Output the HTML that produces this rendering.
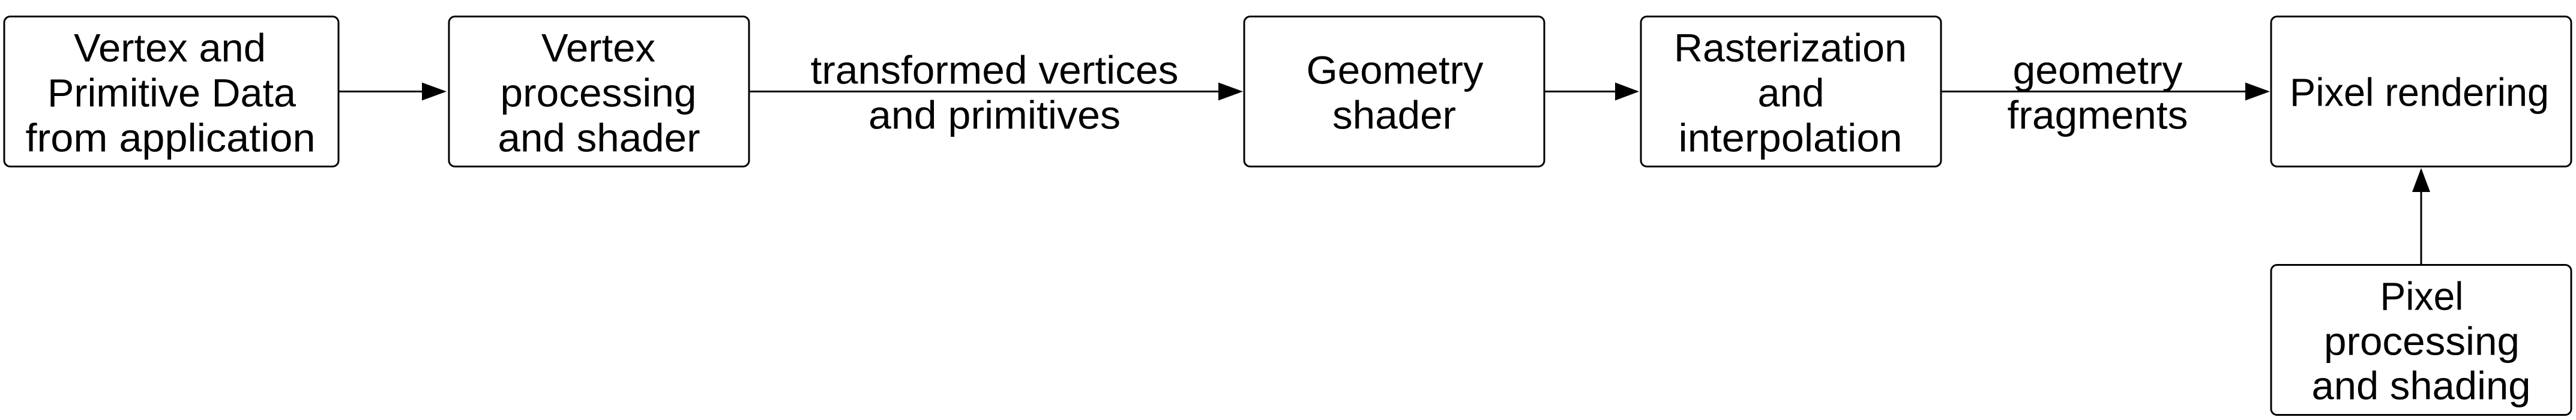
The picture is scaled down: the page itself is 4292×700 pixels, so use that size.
<!DOCTYPE html>
<html>
<head>
<meta charset="utf-8">
<style>
  html, body { margin: 0; padding: 0; background: #ffffff; }
  body { width: 4292px; height: 700px; overflow: hidden; }
  svg { display: block; }
  text { font-family: "Liberation Sans", Arial, Helvetica, sans-serif; font-size: 66px; fill: #000; }
</style>
</head>
<body>
<svg width="4292" height="700" viewBox="0 0 4292 700" xmlns="http://www.w3.org/2000/svg">
  <rect x="0" y="0" width="4292" height="700" fill="#ffffff"/>

  <!-- Boxes -->
  <g fill="#ffffff" stroke="#000" stroke-width="3">
    <rect x="7" y="27.5" width="557" height="250" rx="10" ry="10"/>
    <rect x="748" y="27.5" width="500" height="250" rx="10" ry="10"/>
    <rect x="2073" y="27.5" width="500" height="250" rx="10" ry="10"/>
    <rect x="2734" y="27.5" width="500" height="250" rx="10" ry="10"/>
    <rect x="3784" y="27.5" width="500" height="250" rx="10" ry="10"/>
    <rect x="3784" y="441.5" width="500" height="250" rx="10" ry="10"/>
  </g>

  <!-- Connectors -->
  <g stroke="#000" stroke-width="3" fill="none">
    <line x1="564" y1="152.5" x2="706" y2="152.5"/>
    <line x1="1248" y1="152.5" x2="2033" y2="152.5"/>
    <line x1="2573" y1="152.5" x2="2694" y2="152.5"/>
    <line x1="3234" y1="152.5" x2="3743" y2="152.5"/>
    <line x1="4034" y1="441.5" x2="4034" y2="318"/>
  </g>
  <g fill="#000" stroke="none">
    <polygon points="744,152.5 703,137.5 703,167.5"/>
    <polygon points="2071,152.5 2030,137.5 2030,167.5"/>
    <polygon points="2731,152.5 2691,137.5 2691,167.5"/>
    <polygon points="3782,152.5 3741,137.5 3741,167.5"/>
    <polygon points="4034,280 4019,320 4049,320"/>
  </g>

  <!-- Box 1 -->
  <text x="283" y="102.7" text-anchor="middle" textLength="320" lengthAdjust="spacingAndGlyphs">Vertex and</text>
  <text x="286" y="177.7" text-anchor="middle" textLength="414" lengthAdjust="spacingAndGlyphs">Primitive Data</text>
  <text x="284" y="252.7" text-anchor="middle" textLength="483" lengthAdjust="spacingAndGlyphs">from application</text>

  <!-- Box 2 -->
  <text x="997" y="102.7" text-anchor="middle" textLength="190" lengthAdjust="spacingAndGlyphs">Vertex</text>
  <text x="997" y="177.7" text-anchor="middle" textLength="327" lengthAdjust="spacingAndGlyphs">processing</text>
  <text x="998" y="252.7" text-anchor="middle" textLength="337" lengthAdjust="spacingAndGlyphs">and shader</text>

  <!-- Label 1 -->
  <text x="1657" y="139.5" text-anchor="middle" textLength="613" lengthAdjust="spacingAndGlyphs">transformed vertices</text>
  <text x="1657" y="214.5" text-anchor="middle" textLength="420" lengthAdjust="spacingAndGlyphs">and primitives</text>

  <!-- Geometry shader -->
  <text x="2324" y="139.5" text-anchor="middle" textLength="295" lengthAdjust="spacingAndGlyphs">Geometry</text>
  <text x="2323" y="214.5" text-anchor="middle" textLength="206" lengthAdjust="spacingAndGlyphs">shader</text>

  <!-- Rasterization -->
  <text x="2983" y="102.7" text-anchor="middle" textLength="388" lengthAdjust="spacingAndGlyphs">Rasterization</text>
  <text x="2984" y="177.7" text-anchor="middle" textLength="111" lengthAdjust="spacingAndGlyphs">and</text>
  <text x="2983" y="252.7" text-anchor="middle" textLength="373" lengthAdjust="spacingAndGlyphs">interpolation</text>

  <!-- Label 2 -->
  <text x="3495" y="139.5" text-anchor="middle" textLength="283" lengthAdjust="spacingAndGlyphs">geometry</text>
  <text x="3495" y="214.5" text-anchor="middle" textLength="301" lengthAdjust="spacingAndGlyphs">fragments</text>

  <!-- Pixel rendering -->
  <text x="4031" y="176.7" text-anchor="middle" textLength="432" lengthAdjust="spacingAndGlyphs">Pixel rendering</text>

  <!-- Bottom box -->
  <text x="4035" y="516.7" text-anchor="middle" textLength="139" lengthAdjust="spacingAndGlyphs">Pixel</text>
  <text x="4035" y="591.7" text-anchor="middle" textLength="326" lengthAdjust="spacingAndGlyphs">processing</text>
  <text x="4034" y="665.5" text-anchor="middle" textLength="365" lengthAdjust="spacingAndGlyphs">and shading</text>
</svg>
</body>
</html>
